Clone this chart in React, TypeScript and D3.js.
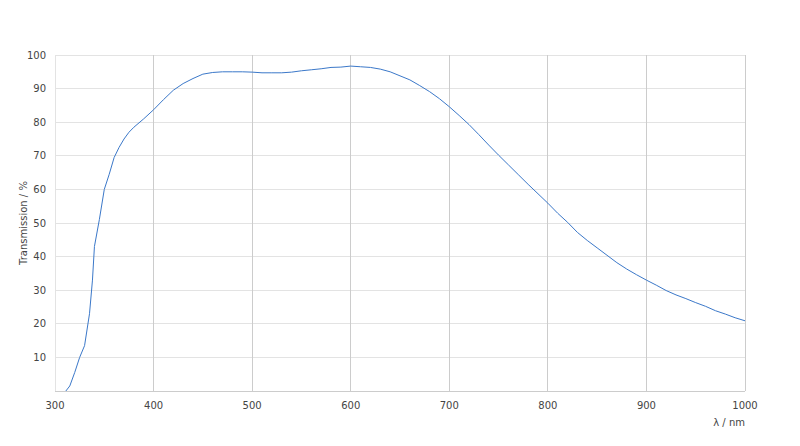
import * as d3 from "d3";

// transmission curve
const wavelengths = [311, 315, 320, 325, 330, 335, 338, 340, 345, 350, 355, 360, 365, 370, 375, 380, 390, 400, 410, 420, 430, 440, 450, 460, 470, 480, 490, 500, 510, 520, 530, 540, 550, 560, 570, 580, 590, 600, 610, 620, 630, 640, 650, 660, 670, 680, 690, 700, 710, 720, 730, 740, 750, 760, 770, 780, 790, 800, 810, 820, 830, 840, 850, 860, 870, 880, 890, 900, 910, 920, 930, 940, 950, 960, 970, 980, 990, 1000];
const transmission = [0, 1.5, 5.5, 10, 13.5, 23, 33, 43, 51, 60, 64.5, 69.5, 72.5, 75, 77, 78.5, 81, 83.7, 86.7, 89.5, 91.5, 93, 94.3, 94.8, 95, 95, 95, 94.9, 94.7, 94.7, 94.7, 94.9, 95.3, 95.6, 95.9, 96.3, 96.4, 96.7, 96.5, 96.3, 95.8, 95, 93.8, 92.6, 90.9, 89.1, 87, 84.6, 82, 79.3, 76.3, 73.2, 70.2, 67.3, 64.4, 61.5, 58.7, 55.9, 52.9, 50.2, 47.2, 44.8, 42.6, 40.4, 38.2, 36.3, 34.6, 33, 31.5, 29.9, 28.6, 27.5, 26.3, 25.2, 23.9, 22.9, 21.8, 20.9];

const xTicks = [300, 400, 500, 600, 700, 800, 900, 1000];
const yTicks = [10, 20, 30, 40, 50, 60, 70, 80, 90, 100];

const width = 800;
const height = 446;
const margin = { top: 55, right: 55, bottom: 55, left: 55 };

export default function App() {
  const x = d3.scaleLinear([300, 1000], [margin.left, width - margin.right]);
  const y = d3.scaleLinear([0, 100], [height - margin.bottom, margin.top]);

  const points: [number, number][] = wavelengths.map((w, i) => [w, transmission[i]]);
  const line = d3.line<[number, number]>()
    .x(d => x(d[0]))
    .y(d => y(d[1]));

  const font = "'DejaVu Sans', sans-serif";

  return (
    <svg width={width} height={height}
      style={{ position: "absolute", left: 0, top: 0, background: "#fff" }}
      fontFamily={font} fontSize={10} fill="#444">
      {/* horizontal grid */}
      {yTicks.map(t => (
        <line key={"h" + t} x1={x(300)} x2={x(1000)} y1={y(t)} y2={y(t)}
          stroke="#e3e3e3" strokeWidth={1} shapeRendering="crispEdges" />
      ))}
      {/* vertical grid */}
      {xTicks.map(t => (
        <line key={"v" + t} x1={x(t)} x2={x(t)} y1={y(0)} y2={y(100)}
          stroke={t === 300 ? "#e3e3e3" : "#cccccc"} strokeWidth={1} shapeRendering="crispEdges" />
      ))}
      <line x1={x(300)} x2={x(1000)} y1={y(0)} y2={y(0)}
        stroke="#cccccc" strokeWidth={1} shapeRendering="crispEdges" />

      {yTicks.map(t => (
        <text key={"yl" + t} x={margin.left - 9} y={y(t)} dy="0.35em" textAnchor="end">{t}</text>
      ))}
      {xTicks.map(t => (
        <text key={"xl" + t} x={x(t)} y={y(0) + 18} textAnchor="middle">{t}</text>
      ))}

      <text x={x(1000)} y={y(0) + 35} textAnchor="end">λ / nm</text>
      <text transform={`translate(27,${(y(0) + y(100)) / 2}) rotate(-90)`} textAnchor="middle">Transmission / %</text>

      <path d={line(points) ?? ""} fill="none" stroke="#3b78c9" strokeWidth={1} />
    </svg>
  );
}
